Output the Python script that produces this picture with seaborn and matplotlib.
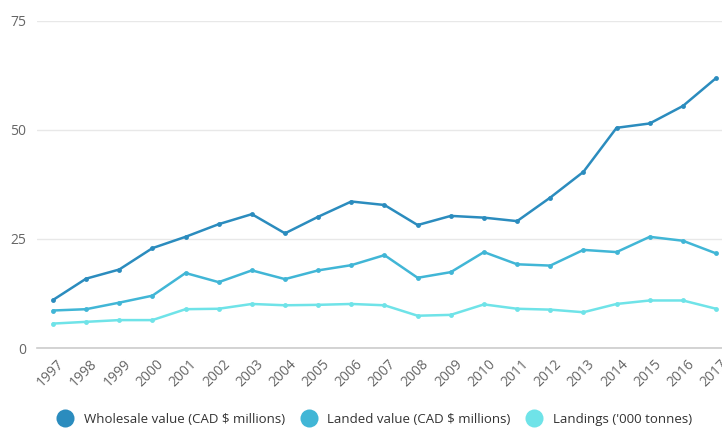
import numpy as np
import pandas as pd
import matplotlib.pyplot as plt
import matplotlib.transforms as mtransforms
import seaborn as sns
from matplotlib.lines import Line2D

# ── Data ─────────────────────────────────────────────────────────────────────
years = list(range(1997, 2018))
wholesale = [11.0, 15.9, 18.0, 22.9, 25.5, 28.4, 30.7, 26.3, 30.1, 33.6, 32.8,
             28.2, 30.3, 29.9, 29.1, 34.5, 40.4, 50.5, 51.5, 55.5, 61.9]
landed = [8.6, 8.9, 10.4, 12.0, 17.2, 15.1, 17.8, 15.8, 17.8, 19.0, 21.3,
          16.1, 17.4, 22.0, 19.2, 18.9, 22.5, 22.0, 25.5, 24.6, 21.7]
landings = [5.6, 6.0, 6.4, 6.4, 8.9, 9.0, 10.1, 9.8, 9.9, 10.1, 9.8,
            7.4, 7.6, 10.0, 9.0, 8.8, 8.2, 10.1, 10.9, 10.9, 9.0]
series_names = ["Wholesale value (CAD $ millions)",
                "Landed value (CAD $ millions)",
                "Landings ('000 tonnes)"]
colors = ["#2b8cbe", "#41b6d6", "#6fe3e8"]

df = pd.DataFrame({
    "year": years * 3,
    "value": wholesale + landed + landings,
    "series": np.repeat(series_names, len(years)),
})

# ── Plot ─────────────────────────────────────────────────────────────────────
sns.set_style("white")
plt.rcParams["font.family"] = ["Open Sans", "DejaVu Sans"]

fig = plt.figure(figsize=(7.22, 4.29), dpi=100)
ax = fig.add_axes([37 / 722, 1 - 348 / 429, 1 - 37 / 722, (348 - 21) / 429])

sns.lineplot(data=df, x="year", y="value", hue="series", hue_order=series_names,
             palette=colors, marker="o", markersize=3.5, markeredgewidth=0,
             linewidth=1.8, ax=ax, legend=False)

ax.set_xlim(1996.52, 2017.18)
ax.set_ylim(0, 75)
ax.set_yticks([0, 25, 50, 75])
ax.set_xticks(years)
ax.set_xticklabels([str(y) for y in years], rotation=45, ha="right",
                   rotation_mode="anchor")
ax.tick_params(axis="both", length=0, labelsize=10, colors="#666666")
ax.tick_params(axis="y", pad=8)
ax.tick_params(axis="x", pad=6)
shift = mtransforms.ScaledTranslation(4 / 100, 0, fig.dpi_scale_trans)
for lbl in ax.get_xticklabels():
    lbl.set_transform(lbl.get_transform() + shift)
ax.grid(axis="y", color="#e8e8e8", linewidth=1)
ax.set_axisbelow(True)
for side in ["top", "right", "left"]:
    ax.spines[side].set_visible(False)
ax.spines["bottom"].set_color("#cccccc")
ax.spines["bottom"].set_linewidth(1.2)
ax.set_xlabel("")
ax.set_ylabel("")

handles = [Line2D([], [], linestyle="none", marker="o", markersize=13,
                  markerfacecolor=c, markeredgewidth=0) for c in colors]
fig.legend(handles, series_names, loc="lower center", bbox_to_anchor=(0.515, -0.02),
           ncol=3, frameon=False, fontsize=9.5, handletextpad=0.4,
           columnspacing=0.8, labelcolor="#333333")

fig.savefig("out.png", dpi=100, facecolor="white")
